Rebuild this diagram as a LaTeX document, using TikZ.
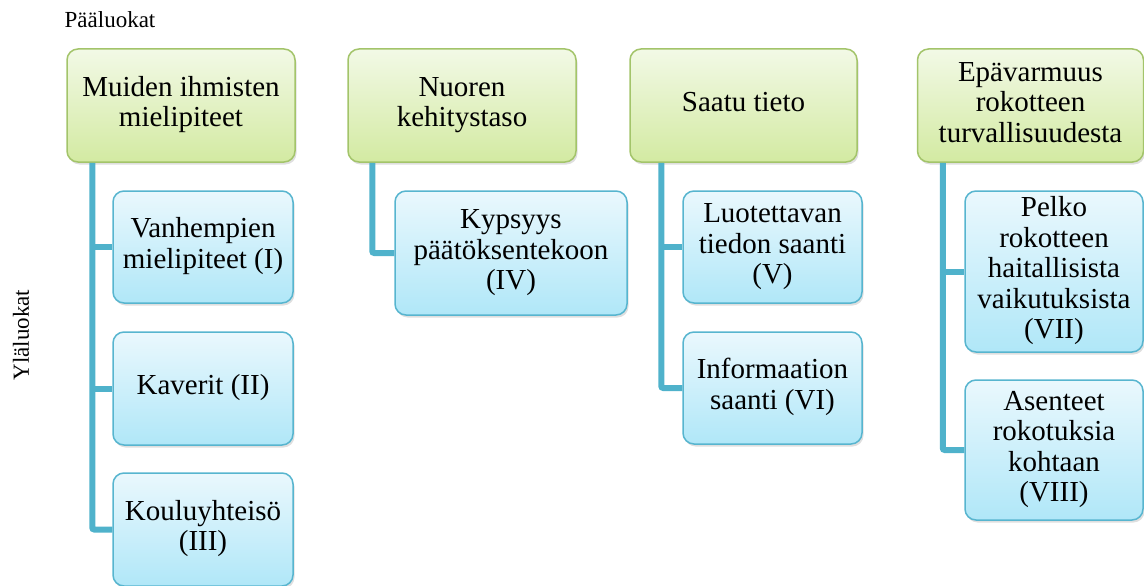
\documentclass[tikz,border=0pt]{standalone}
\usepackage{fontspec}
\usepackage{graphicx}
\setmainfont{Liberation Serif}
\usetikzlibrary{shadows}
\definecolor{gborder}{HTML}{A3C46A}
\definecolor{gtop}{HTML}{F2F9E6}
\definecolor{gbot}{HTML}{D3EAA2}
\definecolor{bborder}{HTML}{57B5CF}
\definecolor{btop}{HTML}{EAF8FD}
\definecolor{bbot}{HTML}{B0E7F8}
\definecolor{conncol}{HTML}{4FB2CB}
\newcommand{\bt}[1]{\scalebox{1.25}{\begin{tabular}{@{}c@{}}#1\end{tabular}}}
\tikzset{
  basebox/.style={rectangle, rounded corners=11pt, line width=1.5pt,
    inner sep=0pt,
    font=\fontsize{23.2}{24.4}\selectfont,
    drop shadow={opacity=0.25, shadow xshift=1.5pt, shadow yshift=-2.5pt}},
  gbox/.style={basebox, draw=gborder, top color=gtop, bottom color=gbot},
  bbox/.style={basebox, draw=bborder, top color=btop, bottom color=bbot},
  conn/.style={draw=conncol, line width=6pt, rounded corners=2pt},
  lbl/.style={font=\fontsize{23}{26}\selectfont, inner sep=0pt}
}
\begin{document}
\begin{tikzpicture}[x=1pt,y=-1pt]
\useasboundingbox (0,0) rectangle (1144,586);
\node[lbl] (pl) at (110,20) {Pääluokat};
\node[lbl, rotate=90] (yl) at (21,335) {Yläluokat};
% green boxes
\node[gbox, minimum width=228pt, minimum height=113pt] (G1) at (181,105.5) {\bt{Muiden ihmisten\\mielipiteet}};
\node[gbox, minimum width=228pt, minimum height=113pt] (G2) at (462,105.5) {\bt{Nuoren\\kehitystaso}};
\node[gbox, minimum width=227pt, minimum height=113pt] (G3) at (743.5,105.5) {\bt{Saatu tieto}};
\node[gbox, minimum width=226pt, minimum height=113pt] (G4) at (1030.5,105.5) {\bt{Epävarmuus\\rokotteen\\turvallisuudesta}};
\coordinate (t1) at ([xshift=26pt]G1.south west);
\coordinate (t2) at ([xshift=25pt]G2.south west);
\coordinate (t3) at ([xshift=32pt]G3.south west);
\coordinate (t4) at ([xshift=26pt]G4.south west);
% blue boxes
\node[bbox, minimum width=180pt, minimum height=112pt] (B1) at (203,247) {\bt{Vanhempien\\mielipiteet (I)}};
\node[bbox, minimum width=180pt, minimum height=113pt] (B2) at (203,388.5) {\bt{Kaverit (II)}};
\node[bbox, minimum width=180pt, minimum height=113pt] (B3) at (203,529.5) {\bt{Kouluyhteisö\\(III)}};
\node[bbox, minimum width=232pt, minimum height=124pt] (B4) at (511,253) {\bt{Kypsyys\\päätöksentekoon\\(IV)}};
\node[bbox, minimum width=179pt, minimum height=112pt] (B5) at (772.5,247) {\bt{Luotettavan\\tiedon saanti\\(V)}};
\node[bbox, minimum width=179pt, minimum height=112pt] (B6) at (772.5,388) {\bt{Informaation\\saanti (VI)}};
\node[bbox, minimum width=178pt, minimum height=161pt] (B7) at (1054,271.5) {\bt{Pelko\\rokotteen\\haitallisista\\vaikutuksista\\(VII)}};
\node[bbox, minimum width=178pt, minimum height=140pt] (B8) at (1054,450) {\bt{Asenteet\\rokotuksia\\kohtaan\\(VIII)}};
% connectors
\draw[conn] (t1) |- (B3.west);
\draw[conn] (t1 |- B1.west) -- (B1.west);
\draw[conn] (t1 |- B2.west) -- (B2.west);
\draw[conn] (t2) |- (B4.west);
\draw[conn] (t3) |- (B6.west);
\draw[conn] (t3 |- B5.west) -- (B5.west);
\draw[conn] (t4) |- (B8.west);
\draw[conn] (t4 |- B7.west) -- (B7.west);
\end{tikzpicture}
\end{document}
